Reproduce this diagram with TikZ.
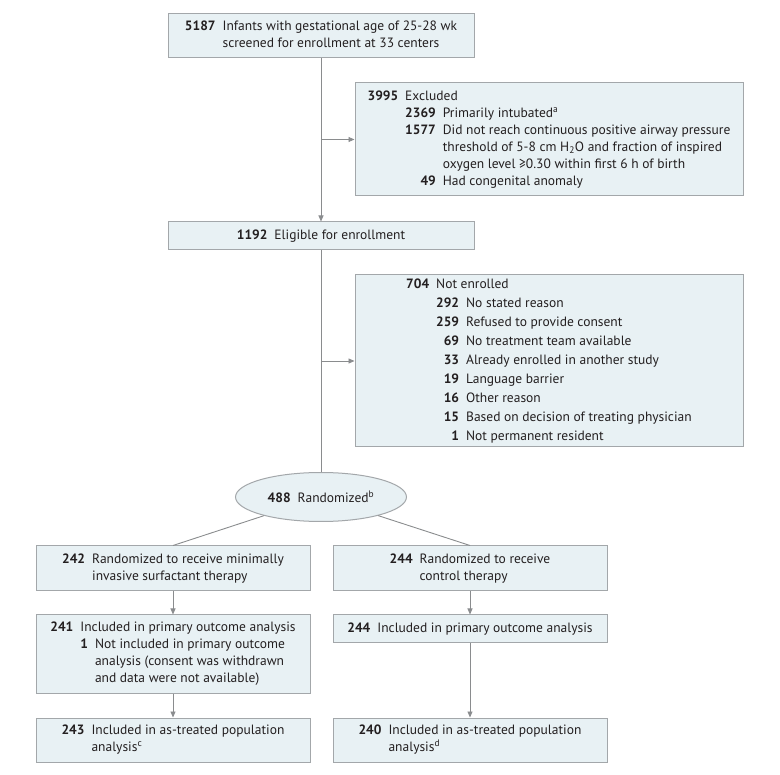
\documentclass[tikz,border=0pt]{standalone}
\usepackage{fontspec}
\setsansfont{PT Sans}
\usetikzlibrary{arrows.meta,positioning,shapes.geometric,calc}
\definecolor{ink}{HTML}{231F20}
\definecolor{boxfill}{HTML}{E8F1F4}
\definecolor{boxline}{HTML}{A3A7AA}
\definecolor{linkgray}{HTML}{8A8C8E}
\newcommand{\nb}[1]{\textbf{#1}}
\newcommand{\fn}[1]{\textsuperscript{#1}}
\tikzset{
  box/.style={rectangle, draw=boxline, line width=1pt, fill=boxfill, text=ink, inner sep=0pt, align=center, font=\sffamily\fontsize{13.5}{17}\selectfont},
  oval/.style={box, ellipse},
  link/.style={draw=linkgray, line width=0.9pt},
  arrow/.style={link, -{Triangle[length=6pt,width=5pt]}}
}
\begin{document}
\begin{tikzpicture}[x=1pt, y=-1pt]
\useasboundingbox (0,0) rectangle (780,775);
% screening and exclusions
\node[box, minimum width=306pt, minimum height=44pt] (screen) at (321,36) {\begin{tabular}{@{}r@{\hspace{7pt}}l@{}}\nb{5187} & Infants with gestational age of 25-28 wk\\ & screened for enrollment at 33 centers\end{tabular}};
\node[box, minimum width=388pt, minimum height=113pt] (excl) at (549,139.5) {\begin{tabular}{@{}r@{\hspace{7pt}}r@{\hspace{7pt}}l@{}}
\nb{3995} & \multicolumn{2}{@{}l@{}}{Excluded}\\
 & \nb{2369} & Primarily intubated\fn{a}\\
 & \nb{1577} & Did not reach continuous positive airway pressure\\
 & & threshold of 5-8 cm H\textsubscript{2}O and fraction of inspired\\
 & & oxygen level ≥0.30 within first 6 h of birth\\
 & \nb{49} & Had congenital anomaly
\end{tabular}};
\node[box, minimum width=306pt, minimum height=28pt] (elig) at (321,236) {\nb{1192}\hspace{7pt}Eligible for enrollment};
\node[box, minimum width=388pt, minimum height=172pt, font=\sffamily\fontsize{13.5}{19}\selectfont] (notenr) at (549,361) {\begin{tabular}{@{}r@{\hspace{7pt}}r@{\hspace{7pt}}l@{}}
\nb{704} & \multicolumn{2}{@{}l@{}}{Not enrolled}\\
 & \nb{292} & No stated reason\\
 & \nb{259} & Refused to provide consent\\
 & \nb{69} & No treatment team available\\
 & \nb{33} & Already enrolled in another study\\
 & \nb{19} & Language barrier\\
 & \nb{16} & Other reason\\
 & \nb{15} & Based on decision of treating physician\\
 & \nb{1} & Not permanent resident
\end{tabular}};
\node[oval, minimum width=171pt, minimum height=49pt] (rand) at (321,497) {\nb{488}\hspace{7pt}Randomized\fn{b}};
% two arms
\node[box, minimum width=274pt, minimum height=45pt] (misa) at (173,568.5) {\begin{tabular}{@{}r@{\hspace{7pt}}l@{}}\nb{242} & Randomized to receive minimally\\ & invasive surfactant therapy\end{tabular}};
\node[box, minimum width=274pt, minimum height=45pt] (ctrl) at (470,568.5) {\begin{tabular}{@{}r@{\hspace{7pt}}l@{}}\nb{244} & Randomized to receive\\ & control therapy\end{tabular}};
\node[box, minimum width=274pt, minimum height=78pt] (misaprim) at (173,654) {\begin{tabular}{@{}r@{\hspace{7pt}}r@{\hspace{7pt}}l@{}}
\nb{241} & \multicolumn{2}{@{}l@{}}{Included in primary outcome analysis}\\
 & \nb{1} & Not included in primary outcome\\
 & & analysis (consent was withdrawn\\
 & & and data were not available)
\end{tabular}};
\node[box, minimum width=274pt, minimum height=28pt] (ctrlprim) at (470,629) {\nb{244}\hspace{7pt}Included in primary outcome analysis};
\node[box, minimum width=274pt, minimum height=44pt] (misatreat) at (173,740) {\begin{tabular}{@{}r@{\hspace{7pt}}l@{}}\nb{243} & Included in as-treated population\\ & analysis\fn{c}\end{tabular}};
\node[box, minimum width=274pt, minimum height=44pt] (ctrltreat) at (470,740) {\begin{tabular}{@{}r@{\hspace{7pt}}l@{}}\nb{240} & Included in as-treated population\\ & analysis\fn{d}\end{tabular}};
% connectors
\draw[arrow] (screen) -- (elig);
\draw[arrow] (screen.south |- excl.west) -- (excl.west);
\draw[link] (elig) -- (rand);
\draw[arrow] (elig.south |- notenr.west) -- (notenr.west);
\draw[link] (rand) -- (misa.north);
\draw[link] (rand) -- (ctrl.north);
\draw[arrow] (misa) -- (misaprim);
\draw[arrow] (misaprim) -- (misatreat);
\draw[arrow] (ctrl) -- (ctrlprim);
\draw[arrow] (ctrlprim) -- (ctrltreat);
\end{tikzpicture}
\end{document}
